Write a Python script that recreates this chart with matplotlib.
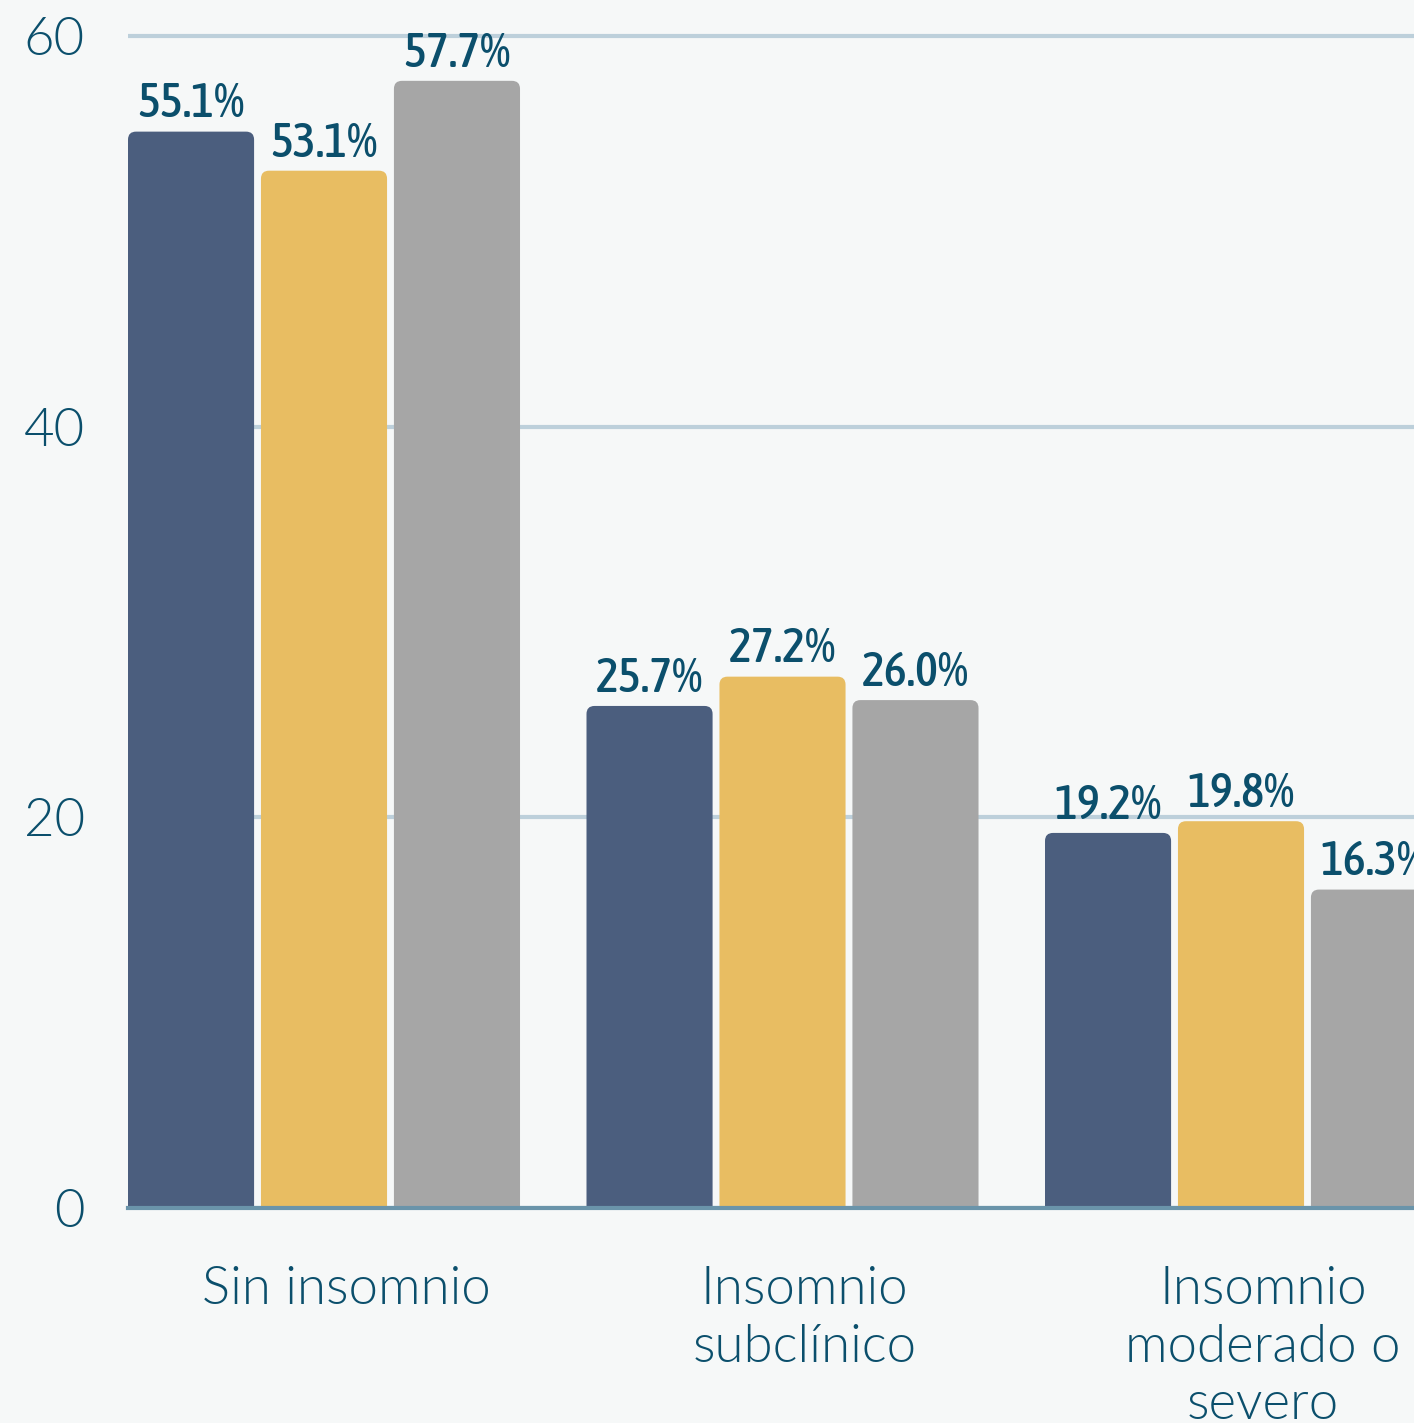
import numpy as np
import matplotlib.pyplot as plt
import matplotlib.transforms as mtransforms
from matplotlib.patches import FancyBboxPatch
from matplotlib import font_manager

categorias = ['Sin insomnio', 'Insomnio\nsubclínico', 'Insomnio\nmoderado o\nsevero']
serie_a = [55.1, 25.7, 19.2]
serie_b = [53.1, 27.2, 19.8]
serie_c = [57.7, 26.0, 16.3]
yticks = [0, 20, 40, 60]

colores = ['#4b5e7e', '#e8bd62', '#a6a6a6']
texto = '#0b4f6c'
fondo = '#f6f8f8'


def peso(w):
    if isinstance(w, str):
        return font_manager.weight_dict.get(w, 400)
    return w


# buscar una fuente estrecha (peso medio) para las etiquetas de las barras
estrecha = None
for f in font_manager.fontManager.ttflist:
    nombre = (f.name + ' ' + f.fname).lower()
    if ('narrow' in nombre or 'condensed' in nombre or f.stretch in ('condensed', 'semi-condensed')) \
            and 'oblique' not in nombre and 'italic' not in nombre and f.style == 'normal':
        if estrecha is None or abs(peso(f.weight) - 520) < abs(peso(estrecha.weight) - 520):
            estrecha = f
if estrecha is not None:
    fp_barras = font_manager.FontProperties(fname=estrecha.fname, size=35)
else:
    fp_barras = font_manager.FontProperties(family='Roboto', size=30)

fig = plt.figure(figsize=(14.14, 14.23), dpi=100, facecolor=fondo)
ax = fig.add_axes([128 / 1414, 215 / 1423, 1286 / 1414, 1176 / 1423])
ax.set_facecolor(fondo)

paso = 0.29
ancho = 0.275
xmin = -paso - ancho / 2
xmax = xmin + 1286 / 458.5
ymax = 60.2
ax.set_xlim(xmin, xmax)
ax.set_ylim(0, ymax)

# relacion de aspecto para redondear las esquinas en pixeles
px_x = 1286 / (xmax - xmin)
px_y = 1176 / ymax
asp = px_x / px_y
radio = 8 / px_x

x = np.arange(len(categorias))
for i, (serie, color) in enumerate(zip([serie_a, serie_b, serie_c], colores)):
    barras = ax.bar(x + (i - 1) * paso, serie, ancho, color=color, zorder=3)
    for b, v in zip(barras, serie):
        b.set_visible(False)
        p = FancyBboxPatch((b.get_x(), -3), b.get_width(), v + 3,
                           boxstyle=f'round,pad=0,rounding_size={radio}',
                           mutation_aspect=asp, fc=color, ec='none', zorder=3)
        ax.add_patch(p)
        ax.annotate(f'{v:.1f}%', (b.get_x() + b.get_width() / 2, v),
                    xytext=(0, 3), textcoords='offset points',
                    ha='center', va='bottom', color=texto, fontproperties=fp_barras,
                    annotation_clip=False, zorder=5)

for s in ax.spines.values():
    s.set_visible(False)
ax.set_axisbelow(True)
ax.yaxis.grid(True, color='#bdd0db', lw=3)
ax.axhline(0, color='#6a94aa', lw=3, zorder=4, clip_on=False)

ax.set_yticks(yticks)
ax.set_yticklabels([str(t) for t in yticks], fontsize=38, color=texto,
                   family='Lato', weight=300)
ax.tick_params(axis='y', length=0, pad=31)

ax.set_xticks(x)
ax.set_xticklabels(categorias, fontsize=38, color=texto, family='Lato',
                   weight=300, linespacing=1.27)
ax.tick_params(axis='x', length=0, pad=42)
desplaza = mtransforms.ScaledTranslation(22 / 100, 0, fig.dpi_scale_trans)
for lab in ax.get_xticklabels():
    lab.set_transform(lab.get_transform() + desplaza)

fig.savefig('out.png', dpi=100, facecolor=fondo)
